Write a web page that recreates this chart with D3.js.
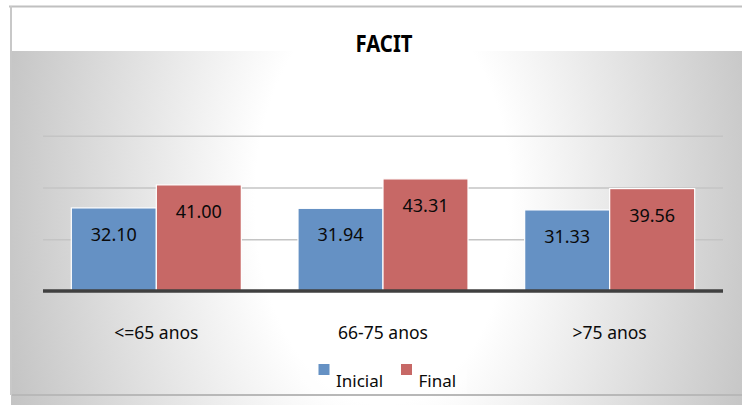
<!DOCTYPE html>
<html>
<head>
<meta charset="utf-8">
<script src="https://cdn.jsdelivr.net/npm/d3@7"></script>
<style>
  html, body { margin: 0; padding: 0; background: #fff; }
  svg { display: block; }
  text { font-family: "Noto Sans", "Open Sans", sans-serif; }
</style>
</head>
<body>
<svg id="chart" width="742" height="405"></svg>
<script>
// FACIT score by age group, initial vs final assessment
const chartTitle = "FACIT";
const categories = ["<=65 anos", "66-75 anos", ">75 anos"];
const seriesNames = ["Inicial", "Final"];
const inicialValues = [32.10, 31.94, 31.33];
const finalValues = [41.00, 43.31, 39.56];
const gridTicks = [20, 40, 60];
const yDomain = [0, 60];
const seriesColors = ["#6591C4", "#C76866"];

const W = 742, H = 405;
const plot = { left: 43, right: 723, top: 135.7, bottom: 291 };

const svg = d3.select("#chart");
const defs = svg.append("defs");

// soft silver backdrop, bright in the middle and greying towards the sides
const grad = defs.append("radialGradient")
  .attr("id", "bgGrad")
  .attr("gradientUnits", "userSpaceOnUse")
  .attr("cx", 383).attr("cy", 200).attr("r", 400)
  .attr("gradientTransform", "translate(383,200) scale(1,1.6) translate(-383,-200)");
grad.append("stop").attr("offset", 0).attr("stop-color", "#ffffff");
grad.append("stop").attr("offset", 0.32).attr("stop-color", "#ffffff");
grad.append("stop").attr("offset", 1).attr("stop-color", "#c2c2c2");

svg.append("rect").attr("x", 11).attr("y", 51).attr("width", W - 11).attr("height", H - 51)
  .attr("fill", "url(#bgGrad)");

// chart frame
svg.append("line").attr("x1", 9).attr("x2", W).attr("y1", 6.5).attr("y2", 6.5)
  .attr("stroke", "#c0c0c0").attr("stroke-width", 2);
svg.append("line").attr("x1", 11).attr("x2", 11).attr("y1", 6).attr("y2", 395)
  .attr("stroke", "#c8c8c8").attr("stroke-width", 2);
svg.append("line").attr("x1", 12).attr("x2", W).attr("y1", 395).attr("y2", 395)
  .attr("stroke", "#b8b8b8").attr("stroke-width", 2);

// title
svg.append("text").attr("x", 384).attr("y", 52).attr("text-anchor", "middle")
  .attr("font-size", 22.5).attr("font-weight", "bold").attr("fill", "#000")
  .attr("textLength", 57).attr("lengthAdjust", "spacingAndGlyphs")
  .text(chartTitle);

// scales
const x0 = d3.scaleBand().domain(categories).range([plot.left, plot.right])
  .paddingInner(0.25).paddingOuter(0.125);
const x1 = d3.scaleBand().domain(seriesNames).range([0, x0.bandwidth()]).padding(0);
const y = d3.scaleLinear().domain(yDomain).range([plot.bottom, plot.top]);
const color = d3.scaleOrdinal().domain(seriesNames).range(seriesColors);

// horizontal gridlines
const grid = d3.axisLeft(y).tickValues(gridTicks).tickSize(-(plot.right - plot.left)).tickFormat("");
const gridG = svg.append("g").attr("transform", `translate(${plot.left},0)`).call(grid);
gridG.select(".domain").remove();
gridG.selectAll(".tick line").attr("stroke", "#c4c4c4").attr("stroke-width", 1.6);

// bars
const rows = categories.map((c, i) => ({
  category: c,
  values: [
    { series: seriesNames[0], value: inicialValues[i] },
    { series: seriesNames[1], value: finalValues[i] }
  ]
}));

const groups = svg.append("g").selectAll("g").data(rows).join("g")
  .attr("transform", d => `translate(${x0(d.category)},0)`);

groups.selectAll("rect").data(d => d.values).join("rect")
  .attr("x", d => x1(d.series))
  .attr("y", d => y(d.value))
  .attr("width", x1.bandwidth())
  .attr("height", d => y(0) - y(d.value))
  .attr("fill", d => color(d.series))
  .attr("stroke", "#ffffff")
  .attr("stroke-width", 1.2);

groups.selectAll("text").data(d => d.values).join("text")
  .attr("x", d => x1(d.series) + x1.bandwidth() / 2)
  .attr("y", d => y(d.value) + 33)
  .attr("text-anchor", "middle")
  .attr("font-size", 18)
  .attr("fill", "#0a0a0a")
  .text(d => d.value.toFixed(2));

// category axis baseline
svg.append("line").attr("x1", plot.left).attr("x2", plot.right)
  .attr("y1", y(0)).attr("y2", y(0))
  .attr("stroke", "#404040").attr("stroke-width", 3.6);

// category labels
const xAxis = d3.axisBottom(x0).tickSize(0).tickPadding(0);
const xG = svg.append("g").attr("transform", `translate(0,${y(0)})`).call(xAxis);
xG.select(".domain").remove();
xG.selectAll(".tick text")
  .attr("y", 48).attr("dy", null)
  .attr("font-size", 17.5).attr("font-family", "Noto Sans, Open Sans, sans-serif")
  .attr("fill", "#0a0a0a");

// legend
svg.append("rect").attr("x", 300).attr("y", 359).attr("width", 167).attr("height", 35)
  .attr("fill", "#ffffff").attr("opacity", 0.35);
const legendX = [318.5, 401];
const legend = svg.append("g").selectAll("g").data(seriesNames).join("g")
  .attr("transform", (d, i) => `translate(${legendX[i]},364)`);
legend.append("rect").attr("width", 11).attr("height", 11).attr("fill", d => color(d));
legend.append("text").attr("x", 17.5).attr("y", 23).attr("font-size", 17).attr("fill", "#0a0a0a")
  .text(d => d);
</script>
</body>
</html>
